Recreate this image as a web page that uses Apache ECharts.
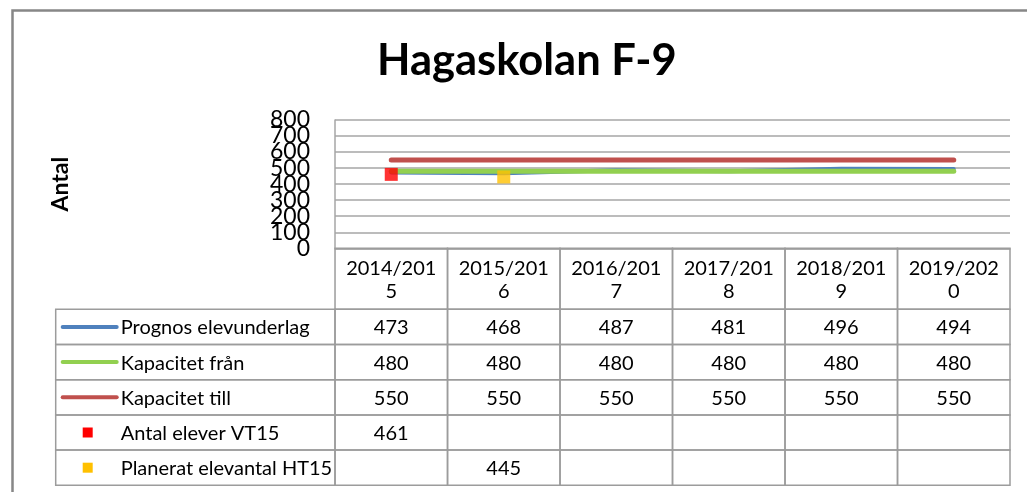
<!DOCTYPE html>
<html>
<head>
<meta charset="utf-8">
<script src="https://cdn.jsdelivr.net/npm/echarts@6/dist/echarts.min.js"></script>
<style>
html,body{margin:0;padding:0;background:#fff;}
#chart{width:1027px;height:492px;}
</style>
</head>
<body>
<div id="chart"></div>
<script>
// ---- data ----
const categories = ['2014/2015', '2015/2016', '2016/2017', '2017/2018', '2018/2019', '2019/2020'];
const headerLabels = ['2014/201\n5', '2015/201\n6', '2016/201\n7', '2017/201\n8', '2018/201\n9', '2019/202\n0'];
const seriesNames = ['Prognos elevunderlag', 'Kapacitet från', 'Kapacitet till', 'Antal elever VT15', 'Planerat elevantal HT15'];
const prognos = [473, 468, 487, 481, 496, 494];
const kapFran = [480, 480, 480, 480, 480, 480];
const kapTill = [550, 550, 550, 550, 550, 550];
const antalVT15 = [461, null, null, null, null, null];
const planHT15 = [null, 445, null, null, null, null];
const yMin = 0, yMax = 800, yStep = 100;
const titleText = 'Hagaskolan F-9';
const yName = 'Antal';

// ---- styling ----
const colors = ['#4F81BD', '#92D050', '#C0504D', '#FF0000', '#FFC000'];
const kinds = ['line', 'line', 'line', 'mark', 'mark'];
const FONT = 'Lato';
const GRIDC = '#A6A6A6';
const TABLEC = '#9C9C9C';
const TFONT = '20px ' + FONT;

const allSeries = [prognos, kapFran, kapTill, antalVT15, planHT15];

// table layout in axis units (grid 1)
const HDR = 1.733;           // header row height in row units
const LEGW = 2.483;          // legend column width in column units
const NROWS = seriesNames.length;

const cells = [];
headerLabels.forEach((h, c) => cells.push([c, 0, h, -1]));
seriesNames.forEach((name, r) => {
  cells.push([-1, r + 1, name, r]);
  allSeries[r].forEach((v, c) => cells.push([c, r + 1, v == null ? '' : String(v), -1]));
});

function renderCell(params, api) {
  const col = api.value(0), row = api.value(1);
  const d = cells[params.dataIndex];
  const text = d[2], sIdx = d[3];
  const x0 = col === -1 ? -LEGW : col;
  const x1 = col === -1 ? 0 : col + 1;
  const y0 = row === 0 ? 0 : HDR + row - 1;
  const y1 = row === 0 ? HDR : HDR + row;
  const p0 = api.coord([x0, y0]);
  const p1 = api.coord([x1, y1]);
  const children = [{
    type: 'rect',
    shape: {x: p0[0], y: p0[1], width: p1[0] - p0[0], height: p1[1] - p0[1]},
    style: {fill: 'none', stroke: TABLEC, lineWidth: 1.5}
  }];
  const cy = (p0[1] + p1[1]) / 2;
  if (col === -1) {
    const kx = p0[0] + 6;
    if (kinds[sIdx] === 'line') {
      children.push({type: 'line', shape: {x1: kx + 1, y1: cy, x2: kx + 55, y2: cy},
        style: {stroke: colors[sIdx], lineWidth: 4, lineCap: 'round'}});
    } else {
      children.push({type: 'rect', shape: {x: kx + 21, y: cy - 5, width: 10, height: 10},
        style: {fill: colors[sIdx]}});
    }
    children.push({type: 'text', style: {text: text, x: kx + 59, y: cy + 1, fill: '#000', font: TFONT, verticalAlign: 'middle', align: 'left'}});
  } else {
    children.push({type: 'text', style: {text: text, x: (p0[0] + p1[0]) / 2, y: cy + 1, fill: '#000', font: TFONT, align: 'center', verticalAlign: 'middle', lineHeight: 23}});
  }
  return {type: 'group', children: children};
}

const lineSeries = [];
allSeries.forEach((arr, i) => {
  if (kinds[i] === 'line') {
    lineSeries.push({
      name: seriesNames[i], type: 'line', data: arr, xAxisIndex: 0, yAxisIndex: 0,
      showSymbol: false, symbol: 'none',
      lineStyle: {color: colors[i], width: i === 0 ? 4 : 5, cap: 'round', join: 'round'},
      z: 2 + i
    });
  } else {
    lineSeries.push({
      name: seriesNames[i], type: 'scatter', data: arr, xAxisIndex: 0, yAxisIndex: 0,
      symbol: 'rect', symbolSize: 13, itemStyle: {color: colors[i]}, z: 10
    });
  }
});

const labelStyle = {margin: 25, fontFamily: FONT, fontSize: 23, color: '#000'};

const chart = echarts.init(document.getElementById('chart'), null, {renderer: 'canvas'});
chart.setOption({
  animation: false,
  backgroundColor: '#fff',
  title: {
    text: titleText, left: 372, top: 34,
    textStyle: {fontFamily: FONT, fontWeight: 'bold', fontSize: 43.5, color: '#000'}
  },
  graphic: [{
    type: 'rect', left: 10, top: 8, z: -10,
    shape: {width: 1100, height: 600},
    style: {fill: 'none', stroke: '#878787', lineWidth: 2.5}
  }],
  grid: [
    {left: 335, top: 120, width: 675, height: 128.3},
    {left: 55.7, top: 248.3, width: 954.3, height: 237}
  ],
  xAxis: [
    {gridIndex: 0, type: 'category', data: categories, boundaryGap: true,
      axisLine: {show: true, lineStyle: {color: GRIDC, width: 1.5}},
      axisTick: {show: false}, axisLabel: {show: false}, splitLine: {show: false}},
    {gridIndex: 1, type: 'value', min: -LEGW, max: 6, show: false}
  ],
  yAxis: [
    {gridIndex: 0, type: 'value', min: yMin, max: yMax, interval: yStep,
      position: 'left', offset: 0,
      name: yName, nameLocation: 'middle', nameGap: 263, nameRotate: 90,
      nameTextStyle: {fontFamily: FONT, fontWeight: 'bold', fontSize: 23, color: '#000'},
      axisLine: {show: true, lineStyle: {color: GRIDC, width: 1.5}},
      axisTick: {show: false},
      axisLabel: Object.assign({}, labelStyle, {showMinLabel: true, showMaxLabel: true,
        formatter: v => (v % (2 * yStep) === 0 ? String(v) : '')}),
      splitLine: {show: true, lineStyle: {color: GRIDC, width: 1.5}}},
    {gridIndex: 1, type: 'value', min: 0, max: HDR + NROWS, inverse: true, show: false},
    {gridIndex: 0, type: 'value', min: yMin, max: yMax, interval: yStep,
      position: 'left', offset: 0,
      axisLine: {show: false}, axisTick: {show: false}, splitLine: {show: false},
      axisLabel: Object.assign({}, labelStyle, {showMinLabel: false, showMaxLabel: false,
        formatter: v => (v % (2 * yStep) !== 0 ? String(v) : '')})}
  ],
  series: lineSeries.concat([{
    type: 'custom', xAxisIndex: 1, yAxisIndex: 1, clip: false,
    data: cells.map(c => [c[0], c[1]]),
    renderItem: renderCell, silent: true, z: 1
  }])
});
</script>
</body>
</html>
